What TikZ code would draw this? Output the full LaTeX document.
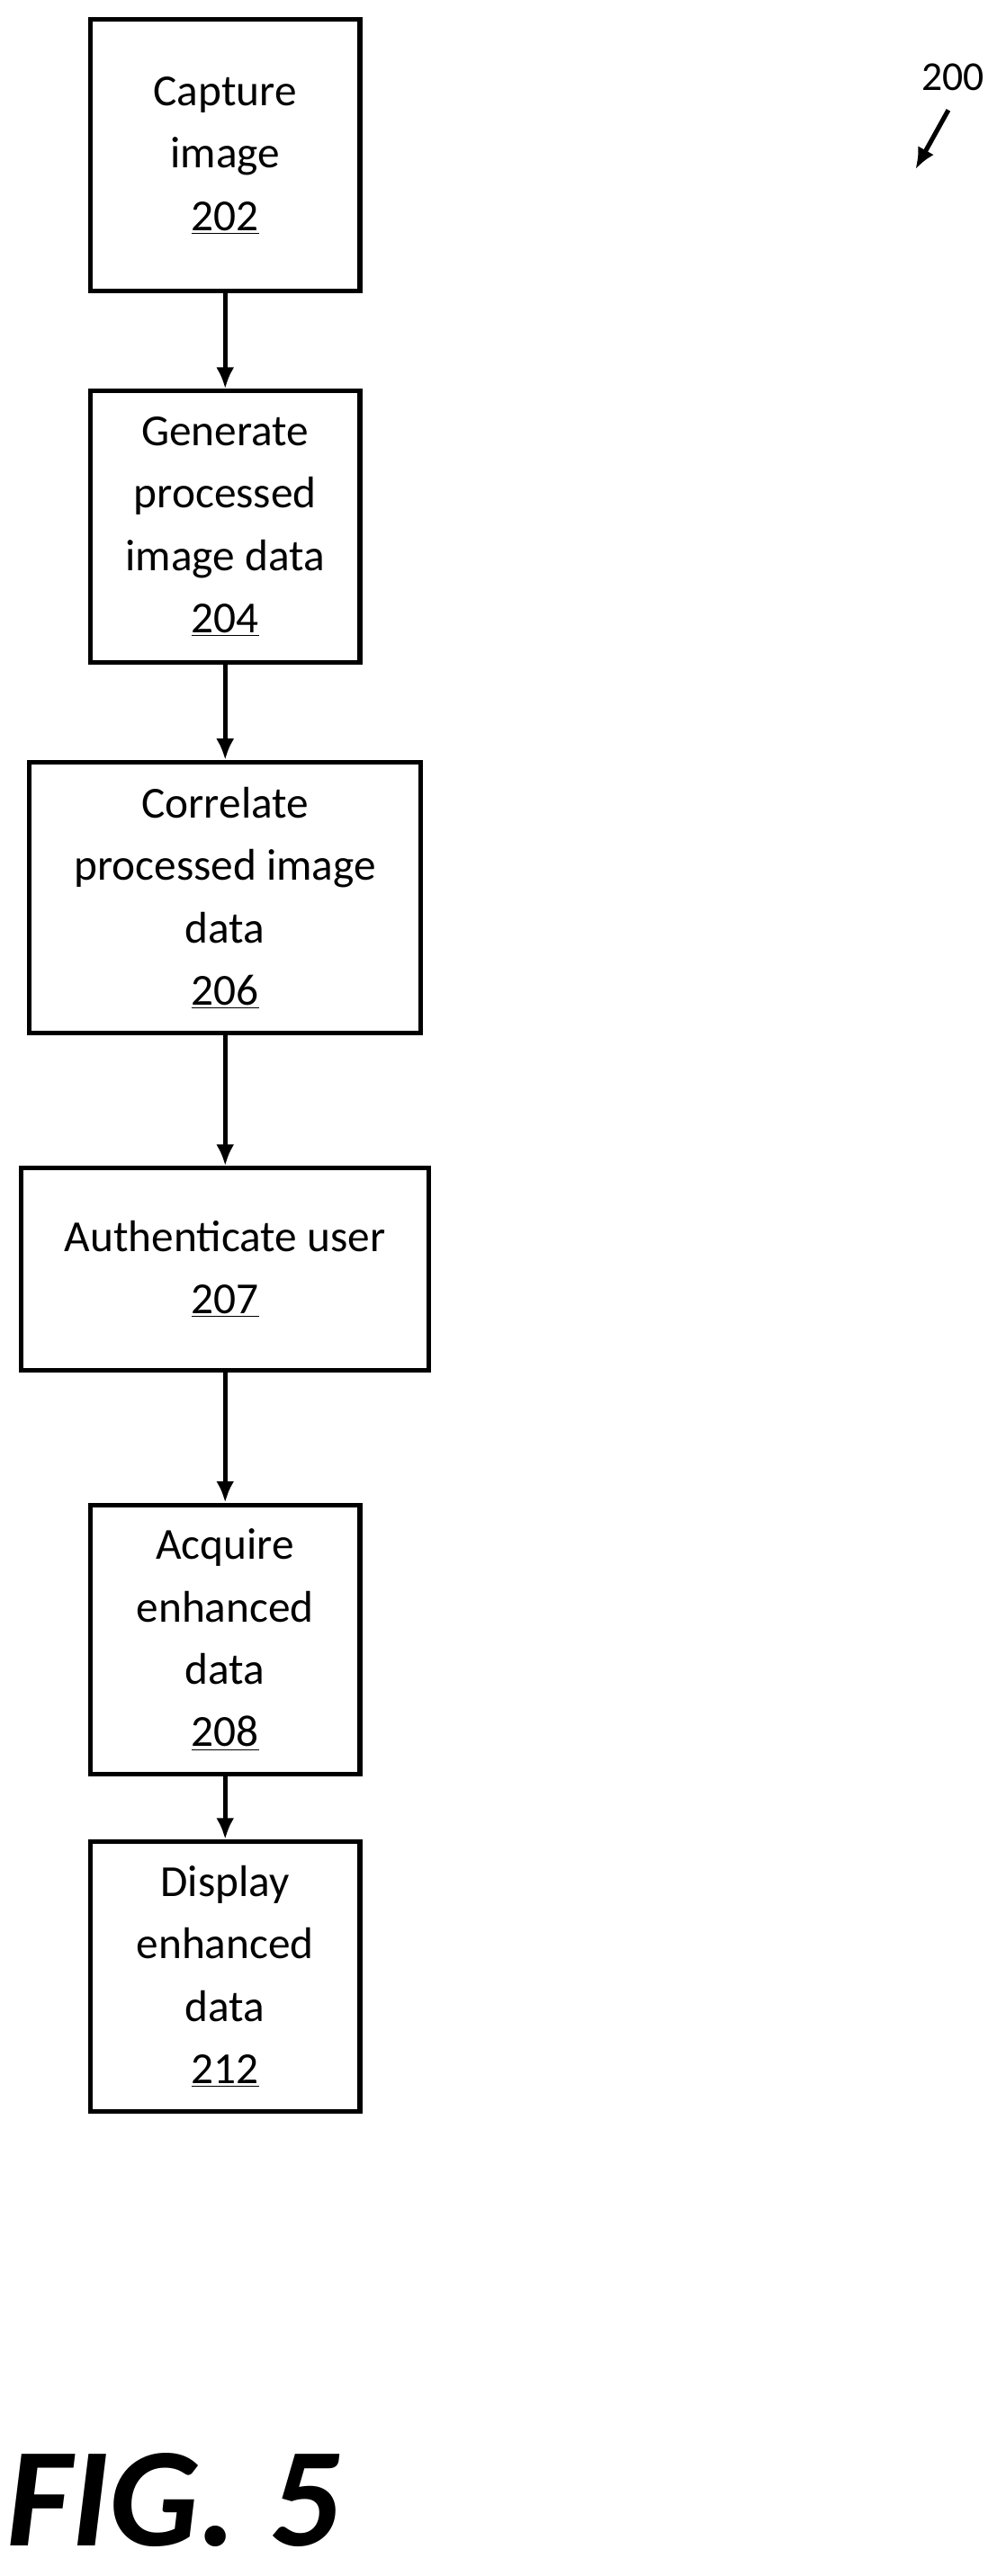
\documentclass[tikz,border=0pt]{standalone}
\usepackage{fontspec}
\setmainfont{Carlito}
\usetikzlibrary{arrows.meta}
\begin{document}
\begin{tikzpicture}[x=1pt,y=-1pt,
  box/.style={draw,line width=2.8pt,align=center,font=\fontsize{27}{38}\selectfont,inner sep=0pt},
  arr/.style={-{Latex[length=13,width=11]},line width=2.8pt}]
\useasboundingbox (0,0) rectangle (612,1568);
\node[box,minimum width=164,minimum height=165] (a) at (137,94.5) {Capture\\image\\\underline{202}};
\node[box,minimum width=164,minimum height=165] (b) at (137,320.5) {Generate\\processed\\image data\\\underline{204}};
\node[box,minimum width=238,minimum height=165] (c) at (137,546.5) {Correlate\\processed image\\data\\\underline{206}};
\node[box,minimum width=248,minimum height=123] (d) at (137,772.5) {Authenticate user\\\underline{207}};
\node[box,minimum width=164,minimum height=164] (e) at (137,998) {Acquire\\enhanced\\data\\\underline{208}};
\node[box,minimum width=164,minimum height=164] (f) at (137,1203) {Display\\enhanced\\data\\\underline{212}};
\draw[arr] (a) -- (b);
\draw[arr] (b) -- (c);
\draw[arr] (c) -- (d);
\draw[arr] (d) -- (e);
\draw[arr] (e) -- (f);
\node[font=\fontsize{25}{28}\selectfont] (n) at (580,47) {200};
\coordinate (t) at (557,103);
\draw[arr] (577,67) -- (t);
\node[font=\fontsize{86}{94}\selectfont\bfseries\itshape,anchor=west,inner sep=0pt] (fig) at (4,1522) {FIG. 5};
\end{tikzpicture}
\end{document}
